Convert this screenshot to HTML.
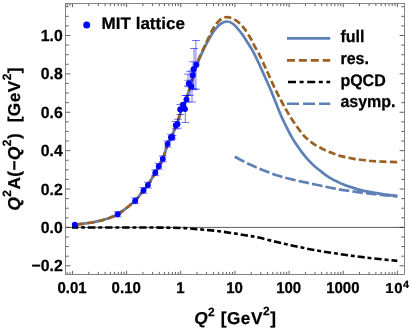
<!DOCTYPE html>
<html><head><meta charset="utf-8"><title>plot</title>
<style>
html,body{margin:0;padding:0;background:#fff}
body{width:411px;height:331px;position:relative;overflow:hidden}
svg{display:block}
text{white-space:pre;text-rendering:geometricPrecision}
svg{will-change:transform;opacity:0.999}
</style></head><body>
<svg width="411" height="331" viewBox="0 0 411 331" style="position:absolute;left:0;top:0"><rect width="411" height="331" fill="#fff"/><path d="M67.20,274.5v-2.6M67.20,3.5v2.6M69.97,274.5v-2.6M69.97,3.5v2.6M72.45,274.5v-3.7M72.45,3.5v3.7M88.75,274.5v-2.6M88.75,3.5v2.6M98.29,274.5v-2.6M98.29,3.5v2.6M105.06,274.5v-2.6M105.06,3.5v2.6M110.31,274.5v-2.6M110.31,3.5v2.6M114.59,274.5v-2.6M114.59,3.5v2.6M118.22,274.5v-2.6M118.22,3.5v2.6M121.36,274.5v-2.6M121.36,3.5v2.6M124.13,274.5v-2.6M124.13,3.5v2.6M126.61,274.5v-3.7M126.61,3.5v3.7M142.91,274.5v-2.6M142.91,3.5v2.6M152.45,274.5v-2.6M152.45,3.5v2.6M159.22,274.5v-2.6M159.22,3.5v2.6M164.47,274.5v-2.6M164.47,3.5v2.6M168.75,274.5v-2.6M168.75,3.5v2.6M172.38,274.5v-2.6M172.38,3.5v2.6M175.52,274.5v-2.6M175.52,3.5v2.6M178.29,274.5v-2.6M178.29,3.5v2.6M180.77,274.5v-3.7M180.77,3.5v3.7M197.07,274.5v-2.6M197.07,3.5v2.6M206.61,274.5v-2.6M206.61,3.5v2.6M213.38,274.5v-2.6M213.38,3.5v2.6M218.63,274.5v-2.6M218.63,3.5v2.6M222.91,274.5v-2.6M222.91,3.5v2.6M226.54,274.5v-2.6M226.54,3.5v2.6M229.68,274.5v-2.6M229.68,3.5v2.6M232.45,274.5v-2.6M232.45,3.5v2.6M234.93,274.5v-3.7M234.93,3.5v3.7M251.23,274.5v-2.6M251.23,3.5v2.6M260.77,274.5v-2.6M260.77,3.5v2.6M267.54,274.5v-2.6M267.54,3.5v2.6M272.79,274.5v-2.6M272.79,3.5v2.6M277.07,274.5v-2.6M277.07,3.5v2.6M280.70,274.5v-2.6M280.70,3.5v2.6M283.84,274.5v-2.6M283.84,3.5v2.6M286.61,274.5v-2.6M286.61,3.5v2.6M289.09,274.5v-3.7M289.09,3.5v3.7M305.39,274.5v-2.6M305.39,3.5v2.6M314.93,274.5v-2.6M314.93,3.5v2.6M321.70,274.5v-2.6M321.70,3.5v2.6M326.95,274.5v-2.6M326.95,3.5v2.6M331.23,274.5v-2.6M331.23,3.5v2.6M334.86,274.5v-2.6M334.86,3.5v2.6M338.00,274.5v-2.6M338.00,3.5v2.6M340.77,274.5v-2.6M340.77,3.5v2.6M343.25,274.5v-3.7M343.25,3.5v3.7M359.55,274.5v-2.6M359.55,3.5v2.6M369.09,274.5v-2.6M369.09,3.5v2.6M375.86,274.5v-2.6M375.86,3.5v2.6M381.11,274.5v-2.6M381.11,3.5v2.6M385.39,274.5v-2.6M385.39,3.5v2.6M389.02,274.5v-2.6M389.02,3.5v2.6M392.16,274.5v-2.6M392.16,3.5v2.6M394.93,274.5v-2.6M394.93,3.5v2.6M397.41,274.5v-3.7M397.41,3.5v3.7M65.5,265.78h4.9M404.5,265.78h-4.9M65.5,256.19h3.2M404.5,256.19h-3.2M65.5,246.59h3.2M404.5,246.59h-3.2M65.5,237.00h3.2M404.5,237.00h-3.2M65.5,227.40h4.9M404.5,227.40h-4.9M65.5,217.81h3.2M404.5,217.81h-3.2M65.5,208.21h3.2M404.5,208.21h-3.2M65.5,198.62h3.2M404.5,198.62h-3.2M65.5,189.02h4.9M404.5,189.02h-4.9M65.5,179.43h3.2M404.5,179.43h-3.2M65.5,169.83h3.2M404.5,169.83h-3.2M65.5,160.24h3.2M404.5,160.24h-3.2M65.5,150.64h4.9M404.5,150.64h-4.9M65.5,141.05h3.2M404.5,141.05h-3.2M65.5,131.45h3.2M404.5,131.45h-3.2M65.5,121.85h3.2M404.5,121.85h-3.2M65.5,112.26h4.9M404.5,112.26h-4.9M65.5,102.66h3.2M404.5,102.66h-3.2M65.5,93.07h3.2M404.5,93.07h-3.2M65.5,83.47h3.2M404.5,83.47h-3.2M65.5,73.88h4.9M404.5,73.88h-4.9M65.5,64.28h3.2M404.5,64.28h-3.2M65.5,54.69h3.2M404.5,54.69h-3.2M65.5,45.09h3.2M404.5,45.09h-3.2M65.5,35.50h4.9M404.5,35.50h-4.9M65.5,25.91h3.2M404.5,25.91h-3.2M65.5,16.31h3.2M404.5,16.31h-3.2M65.5,6.71h3.2M404.5,6.71h-3.2" stroke="#505050" stroke-width="0.9" fill="none"/><path d="M65.5,227.4H404.5" stroke="#333" stroke-width="0.8" fill="none"/><clipPath id="c"><rect x="65.5" y="3.5" width="339.0" height="271.0"/></clipPath><g clip-path="url(#c)" fill="none"><path d="M72.00,224.87C72.67,224.82 74.67,224.66 76.00,224.53C77.33,224.41 78.50,224.30 80.00,224.14C81.50,223.97 83.33,223.76 85.00,223.53C86.67,223.31 88.33,223.07 90.00,222.79C91.67,222.52 93.33,222.22 95.00,221.88C96.67,221.54 98.33,221.17 100.00,220.76C101.67,220.34 103.33,219.89 105.00,219.38C106.67,218.87 107.88,218.52 110.00,217.69C112.12,216.86 115.08,215.92 117.70,214.40C120.32,212.88 123.62,210.17 125.70,208.60C127.78,207.03 128.62,206.32 130.20,205.00C131.78,203.68 133.68,202.23 135.20,200.70C136.72,199.17 137.92,197.50 139.30,195.80C140.68,194.10 142.07,192.27 143.50,190.50C144.93,188.73 146.58,187.08 147.90,185.20C149.22,183.32 150.17,181.27 151.40,179.20C152.63,177.13 154.07,174.95 155.30,172.80C156.53,170.65 157.55,168.62 158.80,166.30C160.05,163.98 161.33,162.52 162.80,158.90C164.27,155.28 166.17,148.25 167.60,144.60C169.03,140.95 169.90,140.35 171.40,137.00C172.90,133.65 174.92,129.00 176.60,124.50C178.28,120.00 179.87,114.28 181.50,110.00C183.13,105.72 184.92,102.88 186.40,98.80C187.88,94.72 189.20,89.55 190.40,85.50C191.60,81.45 192.27,78.57 193.60,74.50C194.93,70.43 196.75,65.25 198.40,61.10C200.05,56.95 202.03,52.72 203.50,49.60C204.97,46.48 206.08,44.50 207.20,42.40C208.32,40.30 209.20,38.72 210.20,37.00C211.20,35.28 212.20,33.57 213.20,32.10C214.20,30.63 215.18,29.40 216.20,28.20C217.22,27.00 218.07,25.88 219.30,24.90C220.53,23.92 222.28,22.87 223.60,22.30C224.92,21.73 225.88,21.40 227.20,21.50C228.52,21.60 230.22,22.22 231.50,22.90C232.78,23.58 233.92,24.70 234.90,25.60C235.88,26.50 236.60,27.40 237.40,28.30C238.20,29.20 238.90,30.00 239.70,31.00C240.50,32.00 241.37,33.13 242.20,34.30C243.03,35.47 243.48,36.10 244.70,38.00C245.92,39.90 248.10,43.43 249.50,45.70C250.90,47.97 251.58,48.75 253.10,51.60C254.62,54.45 257.18,59.82 258.60,62.80C260.02,65.78 259.52,64.82 261.60,69.50C263.68,74.18 268.15,83.90 271.10,90.90C274.05,97.90 277.02,106.03 279.30,111.50C281.58,116.97 282.82,119.58 284.80,123.70C286.78,127.82 289.32,132.80 291.20,136.20C293.08,139.60 294.27,141.37 296.10,144.10C297.93,146.83 300.18,149.97 302.20,152.60C304.22,155.23 306.18,157.67 308.20,159.90C310.22,162.13 312.27,164.17 314.30,166.00C316.33,167.83 318.43,169.33 320.40,170.90C322.37,172.47 324.13,174.03 326.10,175.40C328.07,176.77 330.18,177.98 332.20,179.10C334.22,180.22 336.38,181.23 338.20,182.10C340.02,182.97 341.55,183.65 343.10,184.30C344.65,184.95 344.73,185.07 347.50,186.00C350.27,186.93 355.65,188.85 359.70,189.90C363.75,190.95 367.75,191.57 371.80,192.30C375.85,193.03 379.73,193.68 384.00,194.30C388.27,194.92 395.17,195.72 397.40,196.00" stroke="#5E81B5" stroke-width="2.7"/><path d="M72.00,224.87C72.67,224.82 74.67,224.66 76.00,224.53C77.33,224.41 78.50,224.30 80.00,224.14C81.50,223.97 83.33,223.76 85.00,223.53C86.67,223.31 88.33,223.07 90.00,222.79C91.67,222.52 93.33,222.22 95.00,221.88C96.67,221.54 98.33,221.17 100.00,220.76C101.67,220.34 103.33,219.89 105.00,219.38C106.67,218.87 107.88,218.52 110.00,217.69C112.12,216.86 115.08,215.92 117.70,214.40C120.32,212.88 123.62,210.17 125.70,208.60C127.78,207.03 128.62,206.32 130.20,205.00C131.78,203.68 133.68,202.23 135.20,200.70C136.72,199.17 137.92,197.50 139.30,195.80C140.68,194.10 142.07,192.27 143.50,190.50C144.93,188.73 146.58,187.08 147.90,185.20C149.22,183.32 150.17,181.27 151.40,179.20C152.63,177.13 154.07,174.95 155.30,172.80C156.53,170.65 157.55,168.62 158.80,166.30C160.05,163.98 161.33,162.52 162.80,158.90C164.27,155.28 166.17,148.25 167.60,144.60C169.03,140.95 169.90,140.35 171.40,137.00C172.90,133.65 174.92,129.00 176.60,124.50C178.28,120.00 179.87,114.28 181.50,110.00C183.13,105.72 184.92,102.88 186.40,98.80C187.88,94.72 189.20,89.55 190.40,85.50C191.60,81.45 192.27,78.75 193.60,74.50C194.93,70.25 196.65,64.53 198.40,60.00C200.15,55.47 202.63,50.53 204.10,47.30C205.57,44.07 206.18,42.77 207.20,40.60C208.22,38.43 209.20,36.32 210.20,34.30C211.20,32.28 212.20,30.20 213.20,28.50C214.20,26.80 215.18,25.42 216.20,24.10C217.22,22.78 218.07,21.65 219.30,20.60C220.53,19.55 222.28,18.38 223.60,17.80C224.92,17.22 225.88,17.05 227.20,17.10C228.52,17.15 230.28,17.68 231.50,18.10C232.72,18.52 233.48,19.02 234.50,19.60C235.52,20.18 236.65,20.88 237.60,21.60C238.55,22.32 239.35,23.07 240.20,23.90C241.05,24.73 241.92,25.68 242.70,26.60C243.48,27.52 243.97,28.10 244.90,29.40C245.83,30.70 247.23,32.72 248.30,34.40C249.37,36.08 250.37,37.77 251.30,39.50C252.23,41.23 252.90,42.88 253.90,44.80C254.90,46.72 256.30,49.20 257.30,51.00C258.30,52.80 258.72,53.20 259.90,55.60C261.08,58.00 263.15,62.67 264.40,65.40C265.65,68.13 265.62,68.08 267.40,72.00C269.18,75.92 272.73,83.98 275.10,88.90C277.47,93.82 279.63,97.80 281.60,101.50C283.57,105.20 284.80,107.57 286.90,111.10C289.00,114.63 291.45,118.68 294.20,122.70C296.95,126.72 301.07,132.37 303.40,135.20C305.73,138.03 306.38,138.18 308.20,139.70C310.02,141.22 312.27,142.95 314.30,144.30C316.33,145.65 318.37,146.72 320.40,147.80C322.43,148.88 324.47,149.90 326.50,150.80C328.53,151.70 330.65,152.45 332.60,153.20C334.55,153.95 336.25,154.68 338.20,155.30C340.15,155.92 342.27,156.43 344.30,156.90C346.33,157.37 348.37,157.72 350.40,158.10C352.43,158.48 354.47,158.88 356.50,159.20C358.53,159.52 360.05,159.70 362.60,160.00C365.15,160.30 368.23,160.72 371.80,161.00C375.37,161.28 379.73,161.52 384.00,161.70C388.27,161.88 395.17,162.03 397.40,162.10" stroke="#9A6024" stroke-width="2.7" stroke-dasharray="7.2 3.2" stroke-dashoffset="5.2"/><path d="M72.00,227.40C80.00,227.42 105.33,227.47 120.00,227.50C134.67,227.53 149.28,227.50 160.00,227.60C170.72,227.70 178.22,227.85 184.30,228.10C190.38,228.35 192.43,228.77 196.50,229.10C200.57,229.43 204.65,229.70 208.70,230.10C212.75,230.50 216.75,230.98 220.80,231.50C224.85,232.02 228.93,232.58 233.00,233.20C237.07,233.82 240.90,234.47 245.20,235.20C249.50,235.93 253.37,236.42 258.80,237.60C264.23,238.78 271.48,240.82 277.80,242.30C284.12,243.78 290.38,245.17 296.70,246.50C303.02,247.83 309.37,249.17 315.70,250.30C322.03,251.43 328.37,252.35 334.70,253.30C341.03,254.25 347.38,255.17 353.70,256.00C360.02,256.83 365.33,257.48 372.60,258.30C379.87,259.12 393.18,260.47 397.30,260.90" stroke="#000" stroke-width="2.6" stroke-dasharray="7.3 2.9 3.9 2.9" stroke-dashoffset="0.9"/><path d="M234.80,156.80C237.22,158.05 244.45,162.03 249.30,164.30C254.15,166.57 259.03,168.48 263.90,170.40C268.77,172.32 273.63,174.25 278.50,175.80C283.37,177.35 288.23,178.52 293.10,179.70C297.97,180.88 302.68,181.82 307.70,182.90C312.72,183.98 318.60,185.23 323.20,186.20C327.80,187.17 331.25,187.97 335.30,188.70C339.35,189.43 343.43,190.00 347.50,190.60C351.57,191.20 355.65,191.77 359.70,192.30C363.75,192.83 367.75,193.32 371.80,193.80C375.85,194.28 379.73,194.77 384.00,195.20C388.27,195.63 395.17,196.20 397.40,196.40" stroke="#5E81B5" stroke-width="2.7" stroke-dasharray="10.6 3.1"/><path d="M117.7,211.7V216.9M113.8,211.7h7.8M113.8,216.9h7.8M135.2,197.9V203.5M131.3,197.9h7.8M131.3,203.5h7.8M143.5,187.5V193.3M139.6,187.5h7.8M139.6,193.3h7.8M147.9,182.2V188.0M144.0,182.2h7.8M144.0,188.0h7.8M155.3,169.8V175.6M151.4,169.8h7.8M151.4,175.6h7.8M158.8,163.4V169.2M154.9,163.4h7.8M154.9,169.2h7.8M162.8,155.9V161.9M158.9,155.9h7.8M158.9,161.9h7.8M167.6,140.9V147.1M163.7,140.9h7.8M163.7,147.1h7.8M171.0,134.2V140.4M167.1,134.2h7.8M167.1,140.4h7.8M172.5,135.5V139.1M168.6,135.5h7.8M168.6,139.1h7.8M177.9,119.2V128.2M174.0,119.2h7.8M174.0,128.2h7.8M175.6,121.5V128.9M171.7,121.5h7.8M171.7,128.9h7.8M180.4,104.5V114.5M176.5,104.5h7.8M176.5,114.5h7.8M185.3,95.5V122.5M181.4,95.5h7.8M181.4,122.5h7.8M183.2,103.2V106.2M179.3,103.2h7.8M179.3,106.2h7.8M187.0,95.5V102.1M183.1,95.5h7.8M183.1,102.1h7.8M190.0,71.7V95.3M186.1,71.7h7.8M186.1,95.3h7.8M188.0,74.2V85.8M184.1,74.2h7.8M184.1,85.8h7.8M188.6,80.3V86.7M184.7,80.3h7.8M184.7,86.7h7.8M192.0,70.8V102.0M188.1,70.8h7.8M188.1,102.0h7.8M193.0,61.8V88.8M189.1,61.8h7.8M189.1,88.8h7.8M194.0,48.5V89.7M190.1,48.5h7.8M190.1,89.7h7.8M195.9,40.5V89.1M192.0,40.5h7.8M192.0,89.1h7.8" stroke="#0000ff" stroke-opacity="0.65" stroke-width="0.85"/><circle cx="74.8" cy="224.6" r="2.95" fill="#0000ff"/><circle cx="117.7" cy="214.3" r="2.95" fill="#0000ff"/><circle cx="135.2" cy="200.7" r="2.95" fill="#0000ff"/><circle cx="143.5" cy="190.4" r="2.95" fill="#0000ff"/><circle cx="147.9" cy="185.1" r="2.95" fill="#0000ff"/><circle cx="155.3" cy="172.7" r="2.95" fill="#0000ff"/><circle cx="158.8" cy="166.3" r="2.95" fill="#0000ff"/><circle cx="162.8" cy="158.9" r="2.95" fill="#0000ff"/><circle cx="167.6" cy="144.0" r="2.95" fill="#0000ff"/><circle cx="171.0" cy="137.3" r="2.95" fill="#0000ff"/><circle cx="172.2" cy="137.3" r="2.95" fill="#0000ff"/><circle cx="177.5" cy="124.2" r="2.95" fill="#0000ff"/><circle cx="175.8" cy="125.2" r="2.95" fill="#0000ff"/><circle cx="180.2" cy="109.5" r="2.95" fill="#0000ff"/><circle cx="185.0" cy="109.1" r="2.95" fill="#0000ff"/><circle cx="183.2" cy="104.7" r="2.95" fill="#0000ff"/><circle cx="186.5" cy="99.5" r="2.95" fill="#0000ff"/><circle cx="188.8" cy="83.5" r="2.95" fill="#0000ff"/><circle cx="191.3" cy="86.4" r="2.95" fill="#0000ff"/><circle cx="192.8" cy="75.3" r="2.95" fill="#0000ff"/><circle cx="193.5" cy="69.1" r="2.95" fill="#0000ff"/><circle cx="196.4" cy="64.8" r="2.95" fill="#0000ff"/></g><rect x="65.5" y="3.5" width="339.0" height="271.0" fill="none" stroke="#707070" stroke-width="0.85"/><g fill="none"><path d="M287,38.4H330.2" stroke="#5E81B5" stroke-width="2.6"/><path d="M287,60.3H330.2" stroke="#9A6024" stroke-width="2.7" stroke-dasharray="8 3.9"/><path d="M288,82H330.2" stroke="#000" stroke-width="2.7" stroke-dasharray="8 3.6 4 3.6"/><path d="M287,103.7H330.2" stroke="#5E81B5" stroke-width="2.6" stroke-dasharray="12 4"/></g><circle cx="86.7" cy="24.9" r="3.5" fill="#0000ff"/><g font-family="Liberation Sans, sans-serif" font-weight="bold" fill="#000" stroke="#000" stroke-width="0.25"><text transform="translate(62.70,41.00) scale(1.0,1.02)" font-size="15.8" text-anchor="end">1.0</text><text transform="translate(62.70,79.38) scale(1.0,1.02)" font-size="15.8" text-anchor="end">0.8</text><text transform="translate(62.70,117.76) scale(1.0,1.02)" font-size="15.8" text-anchor="end">0.6</text><text transform="translate(62.70,156.14) scale(1.0,1.02)" font-size="15.8" text-anchor="end">0.4</text><text transform="translate(62.70,194.52) scale(1.0,1.02)" font-size="15.8" text-anchor="end">0.2</text><text transform="translate(62.70,232.90) scale(1.0,1.02)" font-size="15.8" text-anchor="end">0.0</text><text transform="translate(62.70,271.28) scale(1.0,1.02)" font-size="15.8" text-anchor="end">−0.2</text><text transform="translate(72.05,292.50) scale(1.0,1.05)" font-size="15" text-anchor="middle">0.01</text><text transform="translate(126.21,292.50) scale(1.0,1.05)" font-size="15" text-anchor="middle">0.10</text><text transform="translate(180.37,292.50) scale(1.0,1.05)" font-size="15" text-anchor="middle">1</text><text transform="translate(234.53,292.50) scale(1.0,1.05)" font-size="15" text-anchor="middle">10</text><text transform="translate(288.69,292.50) scale(1.0,1.05)" font-size="15" text-anchor="middle">100</text><text transform="translate(342.85,292.50) scale(1.0,1.05)" font-size="15" text-anchor="middle">1000</text><text transform="translate(385.30,293.40) scale(1.0,0.97)" font-size="15" text-anchor="start"><tspan letter-spacing="0.7">10</tspan><tspan font-size="10.8" dy="-5.4" dx="-0.5">4</tspan></text><text transform="translate(101.60,29.00) scale(1.0,0.98)" font-size="17.05" text-anchor="start">MIT lattice</text><text transform="translate(340.40,42.20) scale(1.0,1.05)" font-size="16" text-anchor="start">full</text><text transform="translate(340.40,64.20) scale(1.0,1.05)" font-size="16" text-anchor="start">res.</text><text transform="translate(340.40,85.50) scale(1.0,1.05)" font-size="16" text-anchor="start">pQCD</text><text transform="translate(340.40,107.10) scale(1.0,1.05)" font-size="16" text-anchor="start">asymp.</text><text transform="translate(194.2,324.2)" font-size="17.2" letter-spacing="0.55"><tspan font-style="italic">Q</tspan><tspan font-size="12.00" dy="-8.30">2</tspan><tspan dy="8.30" font-size="17.2">​</tspan> [GeV<tspan font-size="12.00" dy="-9.40">2</tspan><tspan dy="9.40" font-size="17.2">​</tspan>]</text><text transform="translate(19.8,210.6) rotate(-90)" font-size="17.2" letter-spacing="0.47"><tspan font-style="italic">Q</tspan><tspan font-size="12.00" dy="-9.20">2</tspan><tspan dy="9.20" font-size="17.2">​</tspan>A(−<tspan font-style="italic">Q</tspan><tspan font-size="12.00" dy="-9.20">2</tspan><tspan dy="9.20" font-size="17.2">​</tspan>)  [GeV<tspan font-size="12.00" dy="-9.20">2</tspan><tspan dy="9.20" font-size="17.2">​</tspan>]</text></g></svg>
</body></html>
